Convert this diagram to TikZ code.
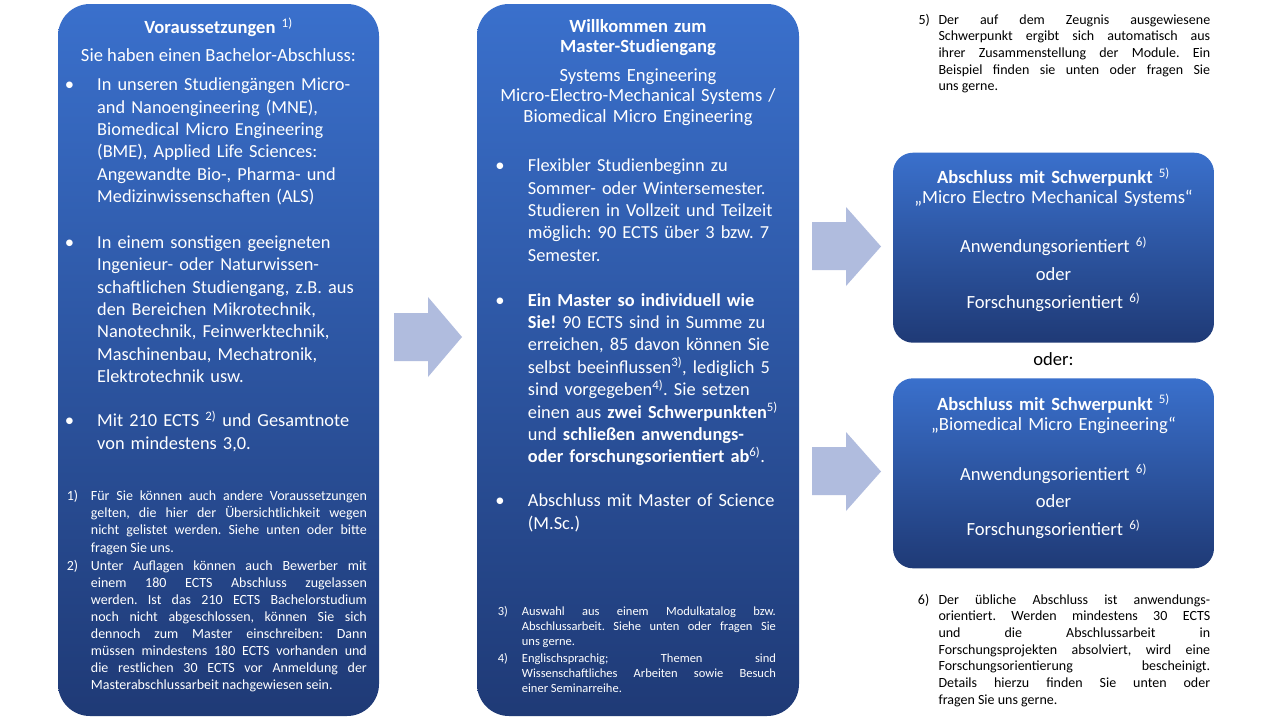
\documentclass[tikz,border=0pt]{standalone}
\usepackage{fontspec}
\setmainfont{Carlito}
\frenchspacing
\hyphenpenalty=10000
\tolerance=10000
\hbadness=10000
\definecolor{boxtop}{RGB}{58,112,204}
\definecolor{boxbot}{RGB}{31,58,118}
\definecolor{arrowfill}{RGB}{176,188,222}
\begin{document}
\begin{tikzpicture}[x=1pt,y=-1pt,
  panel/.style={rectangle, rounded corners=32pt, top color=boxtop, bottom color=boxbot, draw=none, inner sep=0pt},
  smallpanel/.style={panel, rounded corners=20pt},
  main/.style={text=white, inner sep=0pt, font=\fontsize{18.6}{22.4}\selectfont},
  ttl/.style={text=white, inner sep=0pt, font=\fontsize{18.6}{20.5}\selectfont, anchor=base, align=center, text width=310pt},
  opt/.style={text=white, inner sep=0pt, font=\fontsize{18.6}{27.8}\selectfont, anchor=base, align=center, text width=310pt},
  bul/.style={main, anchor=base},
  btxt/.style={main, font=\fontsize{18.35}{22.4}\selectfont, anchor=base west, text width=280pt, align=left},
  fnl/.style={text=white, inner sep=0pt, anchor=base west, font=\fontsize{14}{17.1}\selectfont},
  fnlt/.style={fnl, text width=276pt, align=justify},
  fnm/.style={text=white, inner sep=0pt, anchor=base west, font=\fontsize{12.5}{15.1}\selectfont},
  fnmt/.style={fnm, text width=254pt, align=justify},
  fnr/.style={text=black, inner sep=0pt, anchor=base west, font=\fontsize{14}{16.7}\selectfont},
  fnrt/.style={fnr, text width=271.7pt, align=justify},
  arrowshape/.style={fill=arrowfill, draw=none}
]
\useasboundingbox (0,0) rectangle (1280,720);
\fill[white] (0,0) rectangle (1280,720);

% panels
\node[panel, minimum width=321pt, minimum height=712pt] (left) at (218.5,360) {};
\node[panel, minimum width=322pt, minimum height=712pt] (mid) at (638,360) {};
\node[smallpanel, minimum width=321pt, minimum height=190pt] (r1) at (1053.5,247.7) {};
\node[smallpanel, minimum width=321pt, minimum height=190pt] (r2) at (1053.5,473.3) {};

% block arrows
\fill[arrowshape] (394,313) -- (428,313) -- (428,297) -- (462,337) -- (428,377) -- (428,361) -- (394,361) -- cycle;
\fill[arrowshape] (812,222) -- (846,222) -- (846,207) -- (881,246.5) -- (846,286) -- (846,270) -- (812,270) -- cycle;
\fill[arrowshape] (812,447) -- (846,447) -- (846,432) -- (881,471.5) -- (846,511) -- (846,495) -- (812,495) -- cycle;

% left panel
\node[ttl] (lt) at (218.5,33.3) {\textbf{Voraussetzungen} \textsuperscript{1)}};
\node[main, anchor=base] (ls) at (218.5,61.7) {Sie haben einen Bachelor-Abschluss:};
\node[bul] (lb1) at (69.5,90.7) {•};
\node[btxt] (lx1) at (97,90.7) {In unseren Studiengängen Micro-\\and Nanoengineering (MNE),\\Biomedical Micro Engineering\\(BME), Applied Life Sciences:\\Angewandte Bio-, Pharma- und\\Medizinwissenschaften (ALS)};
\node[bul] (lb2) at (69.5,248.3) {•};
\node[btxt] (lx2) at (97,248.3) {In einem sonstigen geeigneten\\Ingenieur- oder Naturwissen-\\schaftlichen Studiengang, z.B. aus\\den Bereichen Mikrotechnik,\\Nanotechnik, Feinwerktechnik,\\Maschinenbau, Mechatronik,\\Elektrotechnik usw.};
\node[bul] (lb3) at (69.5,426.7) {•};
\node[btxt] (lx3) at (97,426.7) {Mit 210 ECTS \textsuperscript{2)} und Gesamtnote\\von mindestens 3,0.};
\node[fnl] (ln1) at (66.7,500.7) {1)};
\node[fnlt] (lf1) at (90.7,500.7) {Für Sie können auch andere Voraussetzungen\linebreak gelten, die hier der Übersichtlichkeit wegen\linebreak nicht gelistet werden. Siehe unten oder bitte\linebreak fragen Sie uns.};
\node[fnl] (ln2) at (66.7,570) {2)};
\node[fnlt] (lf2) at (90.7,570) {Unter Auflagen können auch Bewerber mit\linebreak einem 180 ECTS Abschluss zugelassen\linebreak werden. Ist das 210 ECTS Bachelorstudium\linebreak noch nicht abgeschlossen, können Sie sich\linebreak dennoch zum Master einschreiben: Dann\linebreak müssen mindestens 180 ECTS vorhanden und\linebreak die restlichen 30 ECTS vor Anmeldung der\linebreak Masterabschlussarbeit nachgewiesen sein.};

% middle panel
\node[ttl] (mt) at (638,32.3) {\textbf{Willkommen zum}\\\textbf{Master-Studiengang}};
\node[ttl] (ms) at (638,81) {Systems Engineering\\Micro-Electro-Mechanical Systems /\\Biomedical Micro Engineering};
\node[bul] (mb1) at (500,171.7) {•};
\node[btxt] (mx1) at (527.7,171.7) {Flexibler Studienbeginn zu\\Sommer- oder Wintersemester.\\Studieren in Vollzeit und Teilzeit\\möglich: 90 ECTS über 3 bzw. 7\\Semester.};
\node[bul] (mb2) at (500,306) {•};
\node[btxt] (mx2) at (527.7,306) {\textbf{Ein Master so individuell wie}\\\textbf{Sie!} 90 ECTS sind in Summe zu\\erreichen, 85 davon können Sie\\selbst beeinflussen\textsuperscript{3)}, lediglich 5\\sind vorgegeben\textsuperscript{4)}. Sie setzen\\einen aus \textbf{zwei Schwerpunkten}\textsuperscript{5)}\\und \textbf{schließen anwendungs-}\\\textbf{oder forschungsorientiert ab}\textsuperscript{6)}.};
\node[bul] (mb3) at (500,506.7) {•};
\node[btxt] (mx3) at (527.7,506.7) {Abschluss mit Master of Science\\(M.Sc.)};
\node[fnm] (mn3) at (497.7,615) {3)};
\node[fnmt] (mf3) at (521.7,615) {Auswahl aus einem Modulkatalog bzw.\linebreak Abschlussarbeit. Siehe unten oder fragen Sie\linebreak uns gerne.};
\node[fnm] (mn4) at (497.7,662.7) {4)};
\node[fnmt] (mf4) at (521.7,662.7) {Englischsprachig; Themen sind\linebreak Wissenschaftliches Arbeiten sowie Besuch\linebreak einer Seminarreihe.};

% right column
\node[fnr] (rn5) at (918.3,24) {5)};
\node[fnrt] (rf5) at (938.3,24) {Der auf dem Zeugnis ausgewiesene\linebreak Schwerpunkt ergibt sich automatisch aus\linebreak ihrer Zusammenstellung der Module. Ein\linebreak Beispiel finden sie unten oder fragen Sie\linebreak uns gerne.};

\node[ttl] (r1h) at (1053.5,183.3) {\textbf{Abschluss mit Schwerpunkt} \textsuperscript{5)}\\„Micro Electro Mechanical Systems“};
\node[opt] (r1o) at (1053.5,252.7) {Anwendungsorientiert \textsuperscript{6)}\\oder\\Forschungsorientiert \textsuperscript{6)}};

\node[main, text=black, anchor=base] (oder) at (1053.5,365) {oder:};

\node[ttl] (r2h) at (1053.5,410) {\textbf{Abschluss mit Schwerpunkt} \textsuperscript{5)}\\„Biomedical Micro Engineering“};
\node[opt] (r2o) at (1053.5,480) {Anwendungsorientiert \textsuperscript{6)}\\oder\\Forschungsorientiert \textsuperscript{6)}};

\node[fnr] (rn6) at (917.7,604) {6)};
\node[fnrt] (rf6) at (938.3,604) {Der übliche Abschluss ist anwendungs-\linebreak orientiert. Werden mindestens 30 ECTS\linebreak und die Abschlussarbeit in\linebreak Forschungsprojekten absolviert, wird eine\linebreak Forschungsorientierung bescheinigt.\linebreak Details hierzu finden Sie unten oder\linebreak fragen Sie uns gerne.};
\end{tikzpicture}
\end{document}
